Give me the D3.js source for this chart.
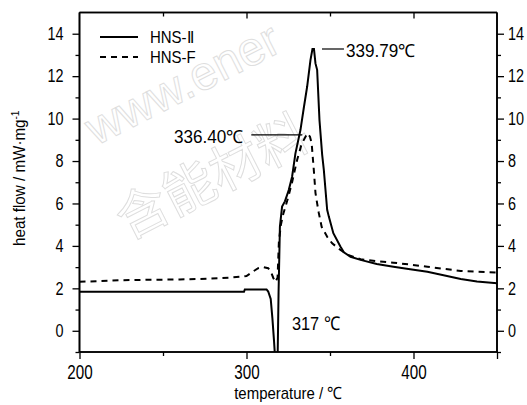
<!DOCTYPE html>
<html>
<head>
<meta charset="utf-8">
<script src="https://cdn.jsdelivr.net/npm/d3@7"></script>
<style>
  body { margin: 0; background: #fff; }
  text { font-family: "Liberation Sans", Arial, sans-serif; }
</style>
</head>
<body>
<svg id="chart" width="527" height="405"></svg>
<script>
// DSC curves, temperature (℃) vs heat flow (mW·mg-1)
const hns2 = [
  [200, 1.84], [298.5, 1.84], [299, 1.95], [312, 1.95], [313, 1.85], [314.5, 1.5],
  [315.5, 0.6], [316.5, -0.5], [317.3, -1.5], [318.6, -1.5], [319.2, 1.8], [320, 4.9],
  [321.3, 5.85], [323, 6.1], [325.3, 6.63], [327.3, 7.26], [329.3, 8.36], [332.3, 9.46],
  [334.3, 10.5], [336.3, 11.5], [338.3, 12.76], [339.5, 13.28], [340.4, 13.28],
  [341.3, 12.6], [342.3, 12.3], [343.7, 9.93], [345.3, 8.3], [346.3, 7.58], [348.3, 5.7],
  [349.3, 5.38], [352, 4.6], [356.3, 3.96], [358.3, 3.7], [362.3, 3.49], [368.3, 3.34],
  [378, 3.15], [388, 3.02], [398, 2.9], [408.3, 2.78], [418, 2.62], [428.3, 2.44],
  [438, 2.32], [450, 2.24]
];

const hnsF = [
  [200, 2.31], [210, 2.33], [224, 2.38], [240, 2.4], [260, 2.42], [272, 2.44],
  [285, 2.48], [292, 2.52], [300, 2.58], [304, 2.8], [307, 2.95], [310, 3.0],
  [313, 2.95], [314.5, 2.8], [316, 2.5], [317.3, 2.3], [318.6, 2.5], [319.4, 4.2],
  [320.6, 5.0], [322, 5.5], [325, 6.3], [327.3, 7.0], [329, 7.6], [330.3, 8.05],
  [333, 8.8], [336.4, 9.3], [338, 9.15], [339, 8.85], [340.3, 7.58], [341.3, 6.5],
  [342.3, 6.0], [343.3, 5.55], [345, 4.9], [348.3, 4.43], [351.3, 4.12], [356.3, 3.81],
  [360, 3.6], [368.3, 3.37], [378, 3.28], [388, 3.21], [398, 3.12], [408.3, 3.02],
  [418, 2.92], [428.3, 2.82], [438, 2.78], [450, 2.75]
];

const seriesNames = ["HNS-\u2161", "HNS-F"];
const xTicks = [200, 300, 400];
const yTicks = [0, 2, 4, 6, 8, 10, 12, 14];
const yMinorTicks = [-1, 1, 3, 5, 7, 9, 11, 13];
const peakLabels = [
  { t: 339.79, v: 13.28, text: "339.79\u2103" },
  { t: 336.40, v: 9.23, text: "336.40\u2103" }
];
const dipLabel = { t: 317, v: 0, text: "317 \u2103" };

const svg = d3.select("#chart");

const x = d3.scaleLinear().domain([200, 450]).range([79.5, 497]);
const y = d3.scaleLinear().domain([-1, 15]).range([352, 12.5]);

// squeeze text horizontally, the figure uses a narrow font
function condense(sel, k) {
  sel.each(function () {
    const len = this.getComputedTextLength();
    d3.select(this).attr("textLength", len * k).attr("lengthAdjust", "spacingAndGlyphs");
  });
}

// watermark
const wm = svg.append("g").attr("class", "watermark");
wm.append("text")
  .attr("transform", "translate(96,146) rotate(-27)")
  .attr("font-size", 48)
  .attr("fill", "none")
  .attr("stroke", "#dedede")
  .attr("stroke-width", 1)
  .text("www.ener");
wm.append("text")
  .attr("transform", "translate(128,240) rotate(-27)")
  .attr("font-size", 52)
  .style("font-family", "Noto Sans CJK SC, sans-serif")
  .attr("fill", "none")
  .attr("stroke", "#dedede")
  .attr("stroke-width", 1)
  .text("含能材料");

svg.append("clipPath").attr("id", "plotClip")
  .append("rect")
  .attr("x", x(200)).attr("y", y(15))
  .attr("width", x(450) - x(200)).attr("height", y(-1) - y(15));

const line = d3.line().x(d => x(d[0])).y(d => y(d[1]));

const curves = svg.append("g").attr("clip-path", "url(#plotClip)");
curves.append("path")
  .datum(hnsF)
  .attr("d", line)
  .attr("fill", "none")
  .attr("stroke", "#000")
  .attr("stroke-width", 2)
  .attr("stroke-dasharray", "6,5");
curves.append("path")
  .datum(hns2)
  .attr("d", line)
  .attr("fill", "none")
  .attr("stroke", "#000")
  .attr("stroke-width", 2);

// axes
const axLeft = svg.append("g").attr("transform", `translate(${x(200)},0)`)
  .call(d3.axisLeft(y).tickValues(yTicks).tickSize(7).tickPadding(9).tickFormat(d3.format("d")));
axLeft.append("g").call(d3.axisLeft(y).tickValues(yMinorTicks).tickSize(4).tickFormat(""));

const axRight = svg.append("g").attr("transform", `translate(${x(450)},0)`)
  .call(d3.axisRight(y).tickValues(yTicks).tickSize(7).tickPadding(4).tickFormat(d3.format("d")));
axRight.append("g").call(d3.axisRight(y).tickValues(yMinorTicks).tickSize(4).tickFormat(""));

const axBottom = svg.append("g").attr("transform", `translate(0,${y(-1)})`)
  .call(d3.axisBottom(x).tickValues(xTicks.concat([450])).tickSize(7).tickPadding(6)
    .tickFormat(d => xTicks.includes(d) ? d : ""));
axBottom.append("g").call(d3.axisBottom(x).tickValues([250, 350]).tickSize(4).tickFormat(""));

const axTop = svg.append("g").attr("transform", `translate(0,${y(15)})`)
  .call(d3.axisTop(x).tickValues([300, 400]).tickSize(-6).tickFormat(""));
axTop.append("g").call(d3.axisTop(x).tickValues([250, 350]).tickSize(-4).tickFormat(""));

[axLeft, axRight, axBottom, axTop].forEach(g => {
  g.selectAll(".domain").attr("stroke", "#000").attr("stroke-width", 1.6);
  g.selectAll(".tick line").attr("stroke", "#000").attr("stroke-width", 1.3);
});
axLeft.selectAll(".domain").attr("d", `M0,${y(15)}V${y(-1)}`);
axRight.selectAll(".domain").attr("d", `M0,${y(15)}V${y(-1)}`);
axBottom.selectAll(".domain").attr("d", `M${x(200)},0H${x(450)}`);
axTop.selectAll(".domain").attr("d", `M${x(200)},0H${x(450)}`);

[axLeft, axRight].forEach(g => g.selectAll(".tick text")
  .attr("font-size", 18).attr("fill", "#000").call(condense, 0.8));
axBottom.selectAll(".tick text").attr("font-size", 20).attr("fill", "#000").call(condense, 0.76);

// axis titles
svg.append("text")
  .attr("transform", `translate(25,${(y(15) + y(-1)) / 2 - 4}) rotate(-90)`)
  .attr("text-anchor", "middle")
  .attr("font-size", 16.5)
  .html('heat flow / mW\u00b7mg<tspan dy="-6" font-size="11">-1</tspan>')
  .call(condense, 0.92);

svg.append("text")
  .attr("x", (x(200) + x(450)) / 2)
  .attr("y", 399)
  .attr("text-anchor", "middle")
  .attr("font-size", 17)
  .text("temperature / \u2103")
  .call(condense, 0.88);

// legend
const legend = svg.append("g").attr("transform", "translate(100,37)");
seriesNames.forEach((name, i) => {
  const row = legend.append("g").attr("transform", `translate(0,${i * 20})`);
  row.append("line")
    .attr("x1", 0).attr("x2", 38)
    .attr("stroke", "#000").attr("stroke-width", 2)
    .attr("stroke-dasharray", i === 1 ? "6,5" : null);
  row.append("text")
    .attr("x", 50).attr("y", 6)
    .attr("font-size", 17)
    .text(name)
    .call(condense, 0.88);
});

// peak annotations
const p1 = peakLabels[0];
svg.append("line")
  .attr("x1", x(p1.t) + 9).attr("x2", x(p1.t) + 31)
  .attr("y1", y(p1.v)).attr("y2", y(p1.v))
  .attr("stroke", "#000").attr("stroke-width", 1.2);
svg.append("text")
  .attr("x", x(p1.t) + 33).attr("y", y(p1.v) + 8)
  .attr("font-size", 18)
  .text(p1.text)
  .call(condense, 0.95);

const p2 = peakLabels[1];
svg.append("line")
  .attr("x1", x(p2.t) - 56).attr("x2", x(p2.t) - 5)
  .attr("y1", y(p2.v)).attr("y2", y(p2.v))
  .attr("stroke", "#000").attr("stroke-width", 1.2);
svg.append("text")
  .attr("x", x(p2.t) - 64).attr("y", y(p2.v) + 8)
  .attr("text-anchor", "end")
  .attr("font-size", 18)
  .text(p2.text)
  .call(condense, 0.95);

svg.append("text")
  .attr("x", x(dipLabel.t) + 17).attr("y", y(dipLabel.v) - 1)
  .attr("font-size", 19)
  .text(dipLabel.text)
  .call(condense, 0.86);
</script>
</body>
</html>
